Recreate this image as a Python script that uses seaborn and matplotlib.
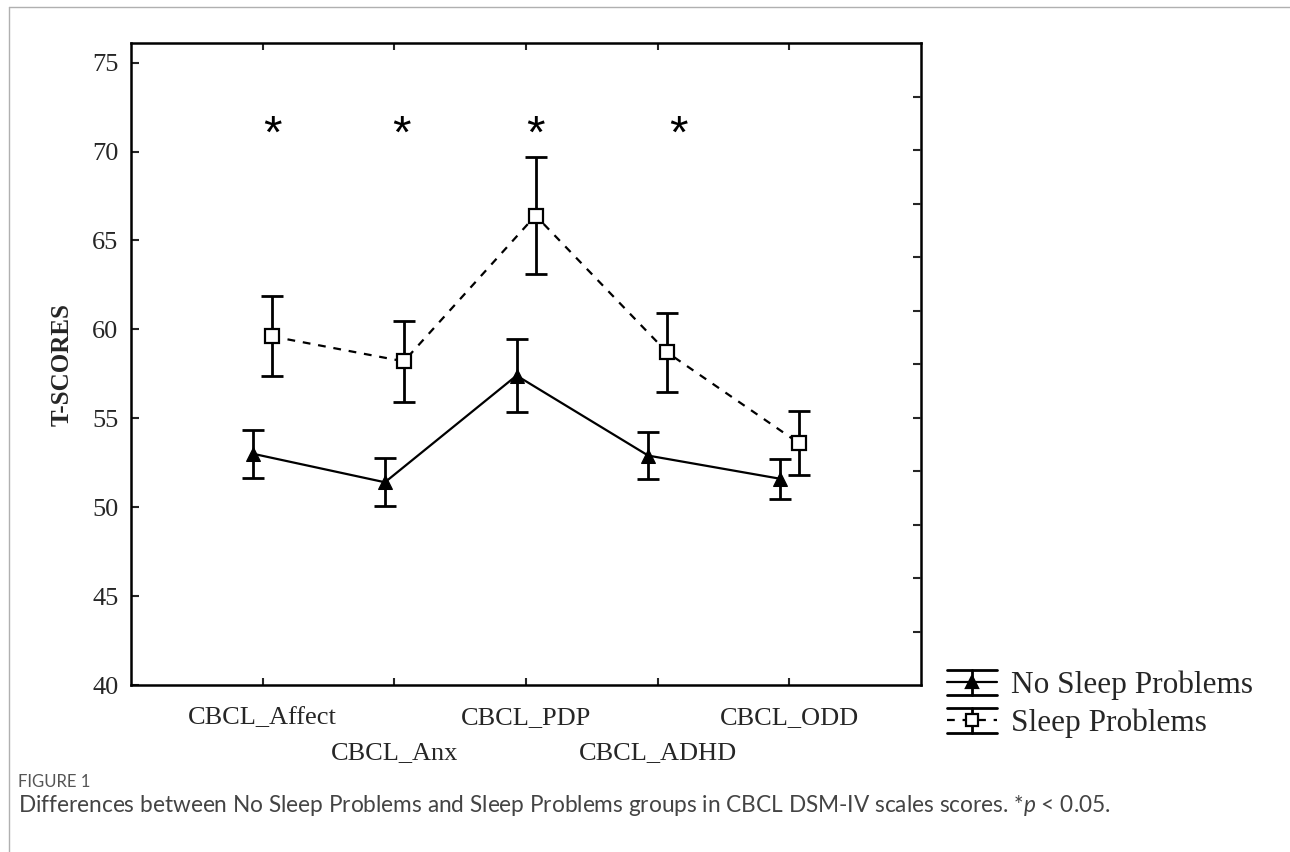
import numpy as np
import pandas as pd
import seaborn as sns
import matplotlib.pyplot as plt
from matplotlib.legend_handler import HandlerBase
from matplotlib.lines import Line2D

# datos
escalas = ["CBCL_Affect", "CBCL_Anx", "CBCL_PDP", "CBCL_ADHD", "CBCL_ODD"]
no_sleep = [53.0, 51.4, 57.4, 52.9, 51.6]
no_sleep_err = [1.36, 1.35, 2.03, 1.34, 1.12]
sleep = [59.6, 58.2, 66.4, 58.7, 53.6]
sleep_err = [2.25, 2.28, 3.28, 2.22, 1.78]
sig_escalas = [0, 1, 2, 3]          # escalas con *
sig_offset = [0.07, 0.05, 0.07, 0.16]
sig_y = 70.9

sns.set_style("white")
plt.rcParams["font.family"] = ["Liberation Serif", "DejaVu Serif"]
plt.rcParams["mathtext.fontset"] = "custom"
plt.rcParams["mathtext.it"] = "Lato:italic"
plt.rcParams["mathtext.rm"] = "Lato"

pos = np.arange(len(escalas))
df = pd.DataFrame({
    "x": np.concatenate([pos - 0.072, pos + 0.072]),
    "score": no_sleep + sleep,
    "err": no_sleep_err + sleep_err,
    "grupo": ["No Sleep Problems"] * 5 + ["Sleep Problems"] * 5,
})

fig = plt.figure(figsize=(12.9, 8.52), dpi=100)
ax = fig.add_axes([0.1016, 0.196, 0.6124, 0.7535])

d1 = df[df.grupo == "No Sleep Problems"]
d2 = df[df.grupo == "Sleep Problems"]

ax.errorbar(d1.x, d1.score, yerr=d1.err, fmt="none", ecolor="black",
            elinewidth=2, capsize=8, capthick=2, zorder=2)
ax.errorbar(d2.x, d2.score, yerr=d2.err, fmt="none", ecolor="black",
            elinewidth=2, capsize=8, capthick=2, zorder=2)

sns.lineplot(data=d1, x="x", y="score", color="black", linewidth=1.6,
             marker="^", markersize=10, markerfacecolor="black",
             markeredgecolor="black", ax=ax, zorder=3, legend=False)
sns.lineplot(data=d2, x="x", y="score", color="black", linewidth=1.6,
             linestyle=(0, (3.5, 3.5)), marker="s", markersize=10,
             markerfacecolor="white", markeredgecolor="black",
             markeredgewidth=1.6, ax=ax, zorder=3, legend=False)

for i, k in enumerate(sig_escalas):
    ax.text(k + sig_offset[i], sig_y, "*", ha="center", va="center",
            fontsize=34, family="Liberation Sans", color="black")

ax.set_xlim(-1, 5)
ax.set_ylim(40, 76.1)
ax.set_xticks(pos)
ax.set_xticklabels(escalas)
ax.set_yticks(np.arange(40, 76, 5))
ax.set_xlabel("")
ax.set_ylabel("T-SCORES", fontsize=18, fontweight="bold")
ax.yaxis.set_label_coords(-0.073, 0.5)

ax.tick_params(axis="x", direction="in", top=True, bottom=True,
               length=5, width=1.5, labelsize=19, pad=16)
ax.tick_params(axis="y", direction="in", left=True, right=False,
               length=6, width=1.5, labelsize=19, pad=9)
for i, t in enumerate(ax.xaxis.get_major_ticks()):
    if i % 2 == 1:
        t.set_pad(41)
for s in ax.spines.values():
    s.set_linewidth(1.8)
    s.set_color("black")

# marcas del lado derecho (12 divisiones)
ax2 = ax.twinx()
ax2.set_ylim(0, 12)
ax2.set_yticks(np.arange(1, 12))
ax2.tick_params(axis="y", direction="in", length=6, width=1.5,
                labelright=False)
for s in ax2.spines.values():
    s.set_visible(False)


class ErrHandler(HandlerBase):
    def create_artists(self, legend, orig, xd, yd, w, h, fontsize, trans):
        ls, mk, fc = orig
        x0, x1 = -xd, -xd + w
        yc = -yd + h / 2
        cap = 0.5 * h
        arts = [
            Line2D([x0, x1], [yc + cap] * 2, color="black", lw=2),
            Line2D([x0, x1], [yc - cap] * 2, color="black", lw=2),
            Line2D([(x0 + x1) / 2] * 2, [yc - cap, yc + cap], color="black", lw=2),
            Line2D([x0, x1], [yc] * 2, color="black", lw=1.6, linestyle=ls),
            Line2D([(x0 + x1) / 2], [yc], marker=mk, markersize=9,
                   markerfacecolor=fc, markeredgecolor="black",
                   markeredgewidth=1.6, linestyle="none"),
        ]
        for a in arts:
            a.set_transform(trans)
        return arts


h1 = ("-", "^", "black")
h2 = ((0, (3.5, 3.5)), "s", "white")
fig.legend([h1, h2], ["No Sleep Problems", "Sleep Problems"],
           handler_map={tuple: ErrHandler()},
           loc="upper left", bbox_to_anchor=(0.734, 0.214),
           frameon=False, fontsize=22.5, handlelength=1.6,
           handleheight=0.85, handletextpad=0.45, labelspacing=0.25,
           borderpad=0, borderaxespad=0)

# marco de la figura
fig.add_artist(Line2D([0.007, 0.007], [0, 0.992], color="#b0b0b0", lw=1,
                      transform=fig.transFigure))
fig.add_artist(Line2D([0.007, 1], [0.992, 0.992], color="#b0b0b0", lw=1,
                      transform=fig.transFigure))

fig.text(0.014, 0.082, "FIGURE 1", fontsize=12, family="Lato",
         color="#555555", va="center")
fig.text(0.014, 0.055,
         "Differences between No Sleep Problems and Sleep Problems groups in "
         "CBCL DSM-IV scales scores. *$p$ < 0.05.",
         fontsize=16.3, family="Lato", color="#444444", va="center")

fig.savefig("out.png", dpi=100)
